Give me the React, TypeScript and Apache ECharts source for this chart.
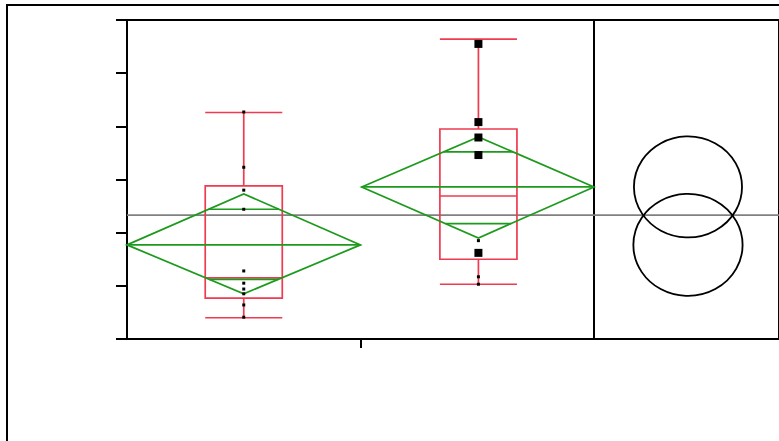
import React, { useEffect, useRef } from "react";
import * as echarts from "echarts";

// Category centres on the x value axis (0..2)
const categoryX = [0.5, 1.505];
// Box plot: [low whisker, q1, median, q3, high whisker]
const boxStats = [
  [0.4, 0.77, 1.15, 2.88, 4.26],
  [1.03, 1.5, 2.69, 3.95, 5.64],
];
// Means diamonds: mean, upper, lower, overlap upper, overlap lower
const groupMeans = [1.77, 2.86];
const diamondTop = [2.73, 3.8];
const diamondBottom = [0.85, 1.9];
const overlapUpper = [2.44, 3.52];
const overlapLower = [1.12, 2.17];
const grandMean = 2.33;
// Observations: [group index, value]
const smallPoints: number[][] = [
  [0, 4.27], [0, 3.23], [0, 2.8], [0, 2.44], [0, 1.28], [0, 1.05], [0, 0.94], [0, 0.85], [0, 0.64], [0, 0.41],
  [1, 1.85], [1, 1.17], [1, 1.03],
];
const bigPoints: number[][] = [
  [1, 5.55], [1, 4.08], [1, 3.79], [1, 3.46], [1, 1.62],
];
// Comparison circles (right panel)
const circleX = 0.508;
const circleRadius = [0.96, 0.95];

const RED = "#ee3b50";
const GREEN = "#1d9a1d";

export default function App() {
  const ref = useRef<HTMLDivElement>(null);
  useEffect(() => {
    const chart = echarts.init(ref.current!, null, { renderer: "svg" });
    const yAxisBase = {
      type: "value",
      min: 0,
      max: 6,
      interval: 1,
      splitLine: { show: false },
      axisLabel: { show: false },
    };
    chart.setOption({
      animation: false,
      backgroundColor: "#fff",
      graphic: [
        {
          type: "rect",
          shape: { x: 7, y: 5, width: 900, height: 600 },
          style: { fill: "none", stroke: "#000", lineWidth: 2 },
          z: 100,
        },
      ],
      grid: [
        { left: 127, top: 20, width: 467, height: 319, show: true, borderColor: "#000", borderWidth: 2, backgroundColor: "transparent" },
        { left: 594, top: 20, width: 190, height: 319, show: true, borderColor: "#000", borderWidth: 2, backgroundColor: "transparent" },
      ],
      xAxis: [
        {
          gridIndex: 0, type: "value", min: 0, max: 2, interval: 1,
          axisLine: { show: true, onZero: false, lineStyle: { color: "#000", width: 2 } },
          axisTick: { show: true, length: 9, customValues: [1], lineStyle: { color: "#000", width: 2 } },
          axisLabel: { show: false }, splitLine: { show: false },
        },
        {
          gridIndex: 1, type: "value", min: 0, max: 1,
          axisLine: { show: false }, axisTick: { show: false }, axisLabel: { show: false }, splitLine: { show: false },
        },
      ],
      yAxis: [
        {
          ...yAxisBase, gridIndex: 0,
          axisLine: { show: true, onZero: false, lineStyle: { color: "#000", width: 2 } },
          axisTick: { show: true, length: 11, lineStyle: { color: "#000", width: 2 } },
        },
        {
          ...yAxisBase, gridIndex: 1,
          axisLine: { show: false }, axisTick: { show: false },
        },
      ],
      series: [
        {
          type: "line", xAxisIndex: 0, yAxisIndex: 0, symbol: "none", silent: true, z: 1,
          data: [[0, grandMean], [2, grandMean]],
          lineStyle: { color: "#808080", width: 1.8 },
        },
        {
          type: "line", xAxisIndex: 1, yAxisIndex: 1, symbol: "none", silent: true, z: 1,
          data: [[0, grandMean], [1, grandMean]],
          lineStyle: { color: "#808080", width: 1.8 },
        },
        {
          type: "custom", xAxisIndex: 0, yAxisIndex: 0, z: 2,
          data: categoryX.map((x, i) => [x, ...boxStats[i]]),
          renderItem: (params: any, api: any) => {
            const x = api.value(0);
            const hw = 0.165;
            const [lo, q1, med, q3, hi] = [1, 2, 3, 4, 5].map((k) => api.value(k));
            const p = (a: number, b: number) => api.coord([a, b]);
            const st = { stroke: RED, lineWidth: 1.7, fill: "none" };
            const ln = (a: number[], b: number[]) => ({ type: "line", shape: { x1: a[0], y1: a[1], x2: b[0], y2: b[1] }, style: st });
            const tl = p(x - hw, q3);
            const br = p(x + hw, q1);
            return {
              type: "group",
              children: [
                { type: "rect", shape: { x: tl[0], y: tl[1], width: br[0] - tl[0], height: br[1] - tl[1] }, style: st },
                ln(p(x - hw, med), p(x + hw, med)),
                ln(p(x, q3), p(x, hi)),
                ln(p(x, q1), p(x, lo)),
                ln(p(x - hw, hi), p(x + hw, hi)),
                ln(p(x - hw, lo), p(x + hw, lo)),
              ],
            };
          },
        },
        {
          type: "custom", xAxisIndex: 0, yAxisIndex: 0, z: 3,
          data: categoryX.map((x, i) => [x, groupMeans[i], diamondTop[i], diamondBottom[i], overlapUpper[i], overlapLower[i]]),
          renderItem: (params: any, api: any) => {
            const x = api.value(0);
            const m = api.value(1), t = api.value(2), b = api.value(3), ou = api.value(4), ol = api.value(5);
            const p = (a: number, c: number) => api.coord([a, c]);
            const st = { stroke: GREEN, lineWidth: 1.7, fill: "none" };
            const ln = (a: number[], c: number[]) => ({ type: "line", shape: { x1: a[0], y1: a[1], x2: c[0], y2: c[1] }, style: st });
            const hwU = 0.5 * (t - ou) / (t - m);
            const hwL = 0.5 * (ol - b) / (m - b);
            const left = Math.max(0, x - 0.5);
            const right = Math.min(2, x + 0.5);
            return {
              type: "group",
              children: [
                { type: "polygon", shape: { points: [p(left, m), p(x, t), p(right, m), p(x, b)] }, style: st },
                ln(p(left, m), p(right, m)),
                ln(p(x - hwU, ou), p(x + hwU, ou)),
                ln(p(x - hwL, ol), p(x + hwL, ol)),
              ],
            };
          },
        },
        {
          type: "scatter", xAxisIndex: 0, yAxisIndex: 0, z: 4, symbol: "rect", symbolSize: 3,
          data: smallPoints.map(([g, v]) => [categoryX[g], v]),
          itemStyle: { color: "#000", opacity: 1 },
        },
        {
          type: "scatter", xAxisIndex: 0, yAxisIndex: 0, z: 4, symbol: "rect", symbolSize: 8,
          data: bigPoints.map(([g, v]) => [categoryX[g], v]),
          itemStyle: { color: "#000", opacity: 1 },
        },
        {
          type: "custom", xAxisIndex: 1, yAxisIndex: 1, z: 3,
          data: groupMeans.map((m, i) => [circleX, m, circleRadius[i]]),
          renderItem: (params: any, api: any) => {
            const c = api.coord([api.value(0), api.value(1)]);
            const r = api.size([0, api.value(2)])[1];
            return {
              type: "circle",
              x: c[0], y: c[1], scaleX: 1.07,
              shape: { cx: 0, cy: 0, r },
              style: { stroke: "#000", lineWidth: 1.7, fill: "none" },
            };
          },
        },
      ],
    });
    return () => chart.dispose();
  }, []);
  return <div ref={ref} style={{ position: "fixed", left: 0, top: 0, width: 779, height: 441 }} />;
}
